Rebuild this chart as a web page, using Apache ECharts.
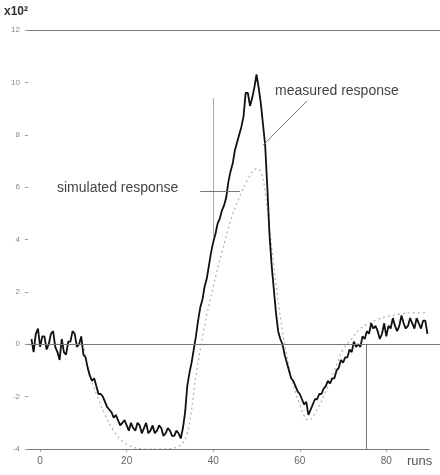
<!DOCTYPE html>
<html>

<head>
  <meta charset="utf-8">
  <title>measured vs simulated response</title>
  <style>
    html, body { margin: 0; padding: 0; background: #fff; }
    #chart { width: 440px; height: 475px; }
  </style>
</head>

<body>
  <div id="chart"></div>
  <script src="https://cdn.jsdelivr.net/npm/echarts@6/dist/echarts.min.js"></script>

  <script type="text/javascript">
    // measured trace is sampled every half run, starting at run -2
    var firstRun = -2;
    var runStep = 0.5;

    var measured = [
      0.2, -0.3, 0.4, 0.6, -0.1, 0.3, 0.3, -0.2, 0.0, 0.4, 0.5, -0.1, -0.3, -0.6, 0.2, -0.3, -0.4, 0.1, 0.1, 0.5, 0.4, -0.1, 0.0, 0.3,
      -0.4, -0.5, -0.9, -1.2, -1.4, -1.3, -1.6, -1.9, -1.9, -2.0, -2.2, -2.4, -2.5, -2.6, -2.8, -2.7, -2.9, -3.1, -3.0, -2.9,
      -3.1, -3.3, -3.0, -3.2, -3.3, -3.0, -3.1, -3.4, -3.2, -3.0, -3.4, -3.3, -3.1, -3.4, -3.3, -3.1, -3.2, -3.5, -3.4, -3.2,
      -3.3, -3.5, -3.5, -3.3, -3.4, -3.6, -3.2, -2.6, -1.6, -1.1, -0.7, -0.2, 0.3, 0.9, 1.4, 1.7, 2.2, 2.5, 3.0, 3.5,
      3.9, 4.2, 4.6, 4.8, 5.1, 5.3, 5.6, 6.2, 6.6, 6.9, 7.4, 7.7, 8.0, 8.3, 8.7, 9.6, 9.6, 9.1, 9.4, 9.8,
      10.3, 9.8, 9.2, 8.4, 7.6, 6.0, 4.2, 3.0, 2.1, 1.2, 0.5, 0.2, 0.0, -0.4, -0.7, -1.0, -1.3, -1.4, -1.6, -1.8,
      -1.9, -2.1, -2.3, -2.2, -2.7, -2.5, -2.3, -2.1, -2.1, -1.9, -1.9, -1.7, -1.6, -1.4, -1.5, -1.3, -1.3, -1.0, -0.9, -0.6,
      -0.7, -0.5, -0.5, -0.2, -0.3, 0.1, -0.1, 0.0, -0.1, 0.3, 0.2, 0.5, 0.4, 0.8, 0.6, 0.7, 0.5, 0.2, 0.4, 0.8,
      0.3, 0.7, 0.6, 1.0, 0.7, 0.5, 0.7, 1.1, 0.8, 0.6, 0.7, 1.0, 0.8, 0.6, 1.0, 0.8, 0.6, 0.9, 0.9, 0.4
    ];

    // simulated response, smooth dotted curve
    var simRuns = [-2, 9, 11, 13, 15, 17, 19, 21, 24, 28, 32, 34, 36, 38, 40, 42, 44, 46, 48, 50,
      51, 52, 54, 56, 58, 60, 62, 64, 66, 68, 70, 72, 74, 76, 78, 80, 83, 86, 89];
    var simulated = [0.0, 0.0, -1.0, -1.9, -2.7, -3.3, -3.7, -3.9, -4.0, -4.0, -3.9, -3.4, -1.2, 0.7, 2.2, 3.5, 4.7, 5.6, 6.3, 6.7,
      6.6, 5.8, 3.0, 0.5, -1.2, -2.3, -2.9, -2.5, -1.8, -1.0, -0.2, 0.2, 0.6, 0.8, 0.95, 1.05, 1.15, 1.2, 1.2];

    var xTicks = [0, 20, 40, 60, 80];
    var markerRun = 75.3;

    var measuredPts = measured.map(function (v, i) { return [firstRun + i * runStep, v]; });
    var simulatedPts = simRuns.map(function (x, i) { return [x, simulated[i]]; });

    var chart = echarts.init(document.getElementById('chart'));
    var option = {
      animation: false,
      grid: { left: 28, right: 0, top: 30, bottom: 26 },
      xAxis: {
        type: 'value',
        min: -2.8,
        max: 92.4,
        axisLine: { show: false, onZero: false },
        axisTick: { show: true, length: 3, customValues: xTicks, lineStyle: { color: '#aaa' } },
        axisLabel: { customValues: xTicks, color: '#666', fontSize: 10, margin: 7, fontFamily: 'Liberation Sans' },
        splitLine: { show: false }
      },
      yAxis: {
        type: 'value',
        min: -4,
        max: 12,
        interval: 2,
        axisLine: { show: false, onZero: false },
        axisTick: { show: true, length: 3, lineStyle: { color: '#999' } },
        axisLabel: { color: '#888', fontSize: 8, margin: 8, fontFamily: 'Liberation Sans' },
        splitLine: { show: false }
      },
      series: [
        {
          name: 'simulated response',
          type: 'line',
          data: simulatedPts,
          smooth: 0.4,
          symbol: 'none',
          lineStyle: { color: '#b0b0b0', width: 1.2, type: [2, 3] },
          z: 2
        },
        {
          name: 'measured response',
          type: 'line',
          data: measuredPts,
          symbol: 'none',
          lineStyle: { color: '#111', width: 1.8 },
          z: 3
        },
        {
          name: 'frame',
          type: 'line',
          data: [],
          markLine: {
            silent: true,
            symbol: 'none',
            label: { show: false },
            lineStyle: { color: '#777', width: 1, type: 'solid' },
            data: [
              { yAxis: 12 },
              { yAxis: 0 },
              [{ coord: [-2.8, -4] }, { coord: [90, -4] }],
              [{ coord: [markerRun, 0] }, { coord: [markerRun, -4] }],
              [{ coord: [40, 4.1], lineStyle: { color: '#aaa' } }, { coord: [40, 9.4] }],
              [{ coord: [51.5, 7.6] }, { coord: [61.7, 9.3] }],
              [{ coord: [37.0, 5.85] }, { coord: [46.2, 5.85] }]
            ]
          }
        }
      ],
      graphic: [
        { type: 'text', left: 4, top: 6, style: { text: 'x10²', fill: '#333', font: 'bold 12px "Liberation Sans"' } },
        { type: 'text', left: 275, top: 84, style: { text: 'measured response', fill: '#444', font: '14px "Liberation Sans"' } },
        { type: 'text', left: 57, top: 181, style: { text: 'simulated response', fill: '#444', font: '14px "Liberation Sans"' } },
        { type: 'text', left: 407, top: 455, style: { text: 'runs', fill: '#555', font: '13px "Liberation Sans"' } }
      ]
    };
    chart.setOption(option);
    window.addEventListener('resize', chart.resize);
  </script>
</body>

</html>
